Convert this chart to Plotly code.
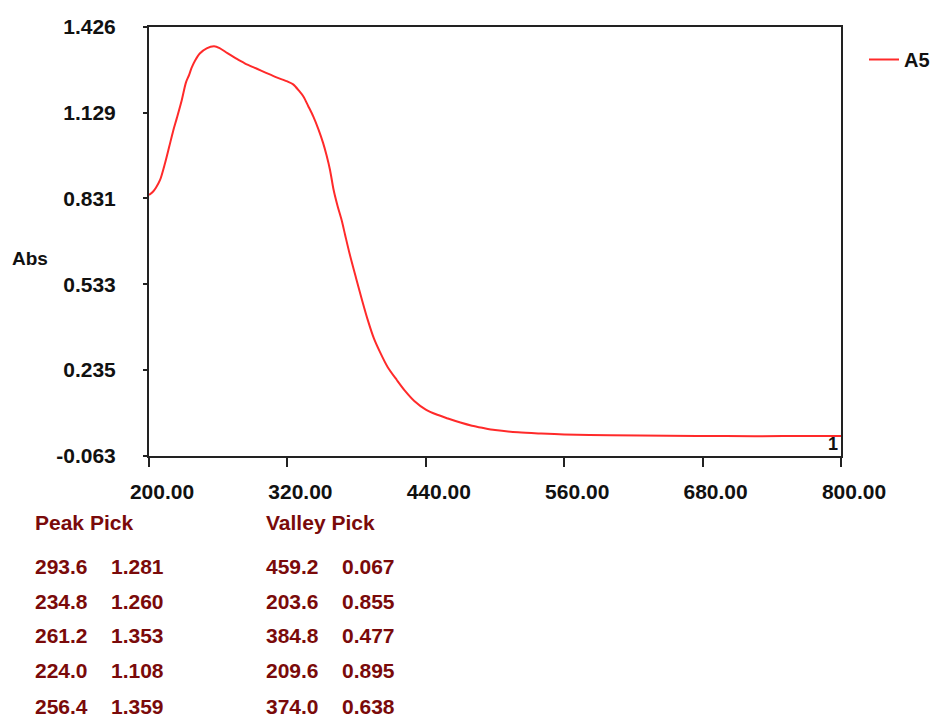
import plotly.graph_objects as go

# Absorbance spectrum of sample A5 (wavelength in nm, absorbance)
wavelength = [200, 203.6, 206, 209.6, 214, 217.5, 221, 224.0, 228.4, 232, 234.8, 237,
              240, 244, 250, 256.4, 261.2, 268, 275, 283, 293.6, 302, 310, 320, 325,
              330, 334, 338, 342.5, 347, 351, 354, 357, 360, 363.5, 367, 370, 374.0,
              379.5, 384.8, 390, 395, 400, 407, 415, 422, 430, 440, 450, 459.2, 470,
              480, 490, 500, 520, 540, 560, 600, 650, 700, 750, 800]
absorbance = [0.843, 0.855, 0.868, 0.895, 0.955, 1.010, 1.066, 1.108, 1.172, 1.233,
              1.260, 1.285, 1.310, 1.334, 1.352, 1.359, 1.353, 1.335, 1.318, 1.300,
              1.281, 1.266, 1.252, 1.237, 1.227, 1.205, 1.184, 1.152, 1.115, 1.070,
              1.023, 0.980, 0.929, 0.862, 0.805, 0.756, 0.705, 0.638, 0.555, 0.477,
              0.405, 0.345, 0.300, 0.245, 0.200, 0.163, 0.128, 0.098, 0.080, 0.067,
              0.053, 0.042, 0.034, 0.027, 0.019, 0.015, 0.012, 0.009, 0.007, 0.006,
              0.006, 0.006]

# Peak / valley pick tables
peak_nm = ["293.6", "234.8", "261.2", "224.0", "256.4"]
peak_abs = ["1.281", "1.260", "1.353", "1.108", "1.359"]
valley_nm = ["459.2", "203.6", "384.8", "209.6", "374.0"]
valley_abs = ["0.067", "0.855", "0.477", "0.895", "0.638"]

x_ticks = [200, 320, 440, 560, 680, 800]
x_ticktext = ["200.00", "320.00", "440.00", "560.00", "680.00", "800.00"]
y_ticks = [-0.063, 0.235, 0.533, 0.831, 1.129, 1.426]
y_ticktext = ["-0.063", "0.235", "0.533", "0.831", "1.129", "1.426"]

W, H = 936, 720
L, R, T, B = 149, 841, 27, 456
FONT = "Liberation Sans, Arial, sans-serif"
DARK_RED = "#7a0a0a"


def px(x):
    return (x - L) / (R - L)


def py(y):
    return (B - y) / (B - T)


fig = go.Figure()
fig.add_trace(go.Scatter(
    x=wavelength, y=absorbance, mode="lines", name="A5",
    line=dict(color="#ff2a2a", width=2, shape="spline", smoothing=0.8),
))

axis_common = dict(
    showline=True, mirror=True, linecolor="#222222", linewidth=2,
    ticks="outside", tickwidth=2, tickcolor="#222222",
    showgrid=False, zeroline=False, automargin=False,
    tickfont=dict(family=FONT, size=21, color="#111111", weight="bold"),
)

fig.update_layout(
    width=W, height=H,
    margin=dict(l=L, r=W - R, t=T, b=H - B, autoexpand=False),
    paper_bgcolor="white", plot_bgcolor="white",
    xaxis=dict(range=[200, 800], tickvals=x_ticks, ticktext=x_ticktext, ticklen=9,
               ticklabelstandoff=7, ticklabelshift=13, **axis_common),
    yaxis=dict(range=[-0.063, 1.426], tickvals=y_ticks, ticktext=y_ticktext, ticklen=4,
               ticklabelstandoff=23, **axis_common),
    showlegend=True,
    legend=dict(x=px(864), y=py(40), xanchor="left", yanchor="top",
                bgcolor="rgba(0,0,0,0)",
                font=dict(family=FONT, size=20, color="#111111", weight="bold")),
)

annotations = []
annotations.append(dict(text="<b>Abs</b>", x=px(10), y=py(258), xref="paper", yref="paper",
                        xanchor="left", yanchor="middle", showarrow=False,
                        font=dict(family=FONT, size=19, color="#111111")))
annotations.append(dict(text="<b>1</b>", x=800, y=-0.063, xref="x", yref="y",
                        xanchor="right", yanchor="bottom", showarrow=False, xshift=-1,
                        font=dict(family=FONT, size=18, color="#111111")))

tfont = dict(family=FONT, size=21, color=DARK_RED)
annotations.append(dict(text="<b>Peak Pick</b>", x=px(33), y=py(522), xref="paper", yref="paper",
                        xanchor="left", yanchor="middle", showarrow=False, font=tfont))
annotations.append(dict(text="<b>Valley Pick</b>", x=px(264), y=py(522), xref="paper", yref="paper",
                        xanchor="left", yanchor="middle", showarrow=False, font=tfont))
row_y = [566, 601, 635, 670, 706]
for i, ry in enumerate(row_y):
    for col_x, txt in ((33, peak_nm[i]), (109, peak_abs[i]), (264, valley_nm[i]), (340, valley_abs[i])):
        annotations.append(dict(text=f"<b>{txt}</b>", x=px(col_x), y=py(ry), xref="paper", yref="paper",
                                xanchor="left", yanchor="middle", showarrow=False, font=tfont))

fig.update_layout(annotations=annotations)

fig.write_html("out.html")
